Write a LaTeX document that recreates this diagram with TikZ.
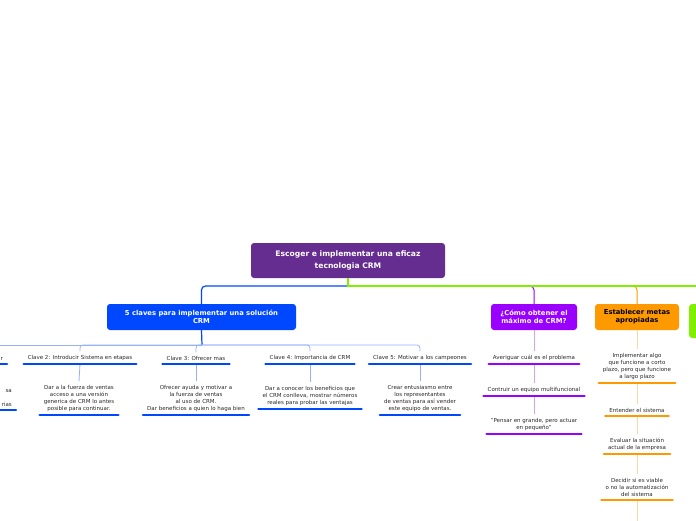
\documentclass[tikz,border=0pt]{standalone}
\usepackage{fontspec}
\setmainfont{DejaVu Sans}
\usepackage{xcolor}
\usepackage{tikz}

\definecolor{rootpurple}{RGB}{102,45,145}
\definecolor{keyblue}{RGB}{0,72,255}
\definecolor{keybluel}{RGB}{150,178,255}
\definecolor{askpurple}{RGB}{153,0,255}
\definecolor{askpurplel}{RGB}{214,160,255}
\definecolor{goalorange}{RGB}{255,153,0}
\definecolor{goalorangel}{RGB}{255,214,160}
\definecolor{limegreen}{RGB}{128,240,0}
\definecolor{leaftext}{RGB}{40,40,40}

\tikzset{
    topic/.style={rounded corners=3pt, align=center, text=white, inner sep=0pt,
        font=\bfseries\fontsize{6.8}{8}\selectfont},
    leaf/.style={align=center, text=leaftext, inner xsep=4pt, inner ysep=3.5pt, anchor=south,
        font=\fontsize{5.5}{7}\selectfont},
    uline/.style={line width=2.6pt, line cap=round},
    twig/.style={line width=0.8pt}
}

\begin{document}
\begin{tikzpicture}[x=1pt, y=-1pt]
        \useasboundingbox (0,0) rectangle (696,520);
        \clip (0,0) rectangle (696,520);

        % main topics
        \node[topic, fill=rootpurple, minimum width=194pt, minimum height=35pt,
            font=\bfseries\fontsize{7.6}{11.5}\selectfont] (root) at (348,260.5)
            {Escoger e implementar una eficaz\\tecnologia CRM};
        \node[topic, fill=keyblue, minimum width=189pt, minimum height=26pt] (claves) at (201.5,317)
            {5 claves para implementar una solución\\CRM};
        \node[topic, fill=askpurple, minimum width=86pt, minimum height=26pt] (obtener) at (534,317)
            {¿Cómo obtener el\\máximo de CRM?};
        \node[topic, fill=goalorange, text=black, minimum width=84pt, minimum height=26pt] (metas) at (637,317)
            {Establecer metas\\apropiadas};
        \node[topic, fill=limegreen, minimum width=40pt, minimum height=34pt, anchor=west] (verde) at (689,321) {};

        \coordinate (hub) at (348,286);
        \coordinate (edge) at (700,286);
        \draw[keyblue, line width=1.2pt, rounded corners=4pt] (hub) -| (claves.north);
        \draw[askpurple, line width=1pt, rounded corners=4pt] (hub) -| (obtener.north);
        \draw[goalorange, line width=1pt, rounded corners=4pt] (hub) -| (metas.north);
        \draw[limegreen, line width=1.4pt] (root.south) -- (hub) -- (edge);

        % 5 claves
        \node[leaf, anchor=south east] (c1) at (7,364) {r};
        \node[leaf] (c2) at (80,364) {Clave 2: Introducir Sistema en etapas};
        \node[leaf] (c3) at (196,364) {Clave 3: Ofrecer mas};
        \node[leaf] (c4) at (310,364) {Clave 4: Importancia de CRM};
        \node[leaf] (c5) at (420,364) {Clave 5: Motivar a los campeones};

        \node[leaf, anchor=south east, align=right] (d1) at (16,410) {sa\\\mbox{}\\rias};
        \node[leaf] (d2) at (79,415) {Dar a la fuerza de ventas\\acceso a una versión\\generica de CRM lo antes\\posible para continuar.};
        \node[leaf] (d3) at (196,415) {Ofrecer ayuda y motivar a\\la fuerza de ventas\\al uso de CRM.\\Dar beneficios a quien lo haga bien};
        \node[leaf] (d4) at (310,409) {Dar a conocer los beneficios que\\el CRM conlleva, mostrar números\\reales para probar las ventajas};
        \node[leaf] (d5) at (420,415) {Crear entusiasmo entre\\los representantes\\de ventas para así vender\\este equipo de ventas.};

        \coordinate (bhub) at (202,345);
        \coordinate (c1hub) at (-20,345);
        \draw[keyblue, line width=1.2pt] (claves.south) -- (bhub);
        \draw[keybluel, twig] (bhub) -- (c1hub);
        \foreach \n in {c2,c3,c4,c5}
            \draw[keybluel, twig, rounded corners=3pt] (bhub) -| (\n.north);
        \foreach \n/\m in {c2/d2,c3/d3,c4/d4,c5/d5}
            \draw[keybluel, twig] (\n.south) -- (\m.north);

        % como obtener
        \node[leaf] (p1) at (534,364) {Averiguar cuál es el problema};
        \node[leaf] (p2) at (534,396) {Contruir un equipo multifuncional};
        \node[leaf] (p3) at (534,434) {"Pensar en grande, pero actuar\\en pequeño"};
        \draw[askpurplel, twig] (obtener.south) -- (p1.north);
        \draw[askpurplel, twig] (p1.south) -- (p2.north);
        \draw[askpurplel, twig] (p2.south) -- (p3.north);

        % metas
        \node[leaf] (o1) at (637,383) {Implementar algo\\que funcione a corto\\plazo, pero que funcione\\a largo plazo};
        \node[leaf] (o2) at (637,416) {Entender el sistema};
        \node[leaf] (o3) at (637,454) {Evaluar la situación\\actual de la empresa};
        \node[leaf] (o4) at (637,500) {Decidir si es viable\\o no la automatización\\del sistema};
        \coordinate (oend) at (637,525);
        \draw[goalorangel, twig] (metas.south) -- (o1.north);
        \draw[goalorangel, twig] (o1.south) -- (o2.north);
        \draw[goalorangel, twig] (o2.south) -- (o3.north);
        \draw[goalorangel, twig] (o3.south) -- (o4.north);
        \draw[goalorangel, twig] (o4.south) -- (oend);

        \foreach \n/\c in {c1/keyblue,c2/keyblue,c3/keyblue,c4/keyblue,c5/keyblue,
                d1/keyblue,d2/keyblue,d3/keyblue,d4/keyblue,d5/keyblue,
                p1/askpurple,p2/askpurple,p3/askpurple,
                o1/goalorange,o2/goalorange,o3/goalorange,o4/goalorange}
            \draw[uline, \c] (\n.south west) -- (\n.south east);
    \end{tikzpicture}
\end{document}
